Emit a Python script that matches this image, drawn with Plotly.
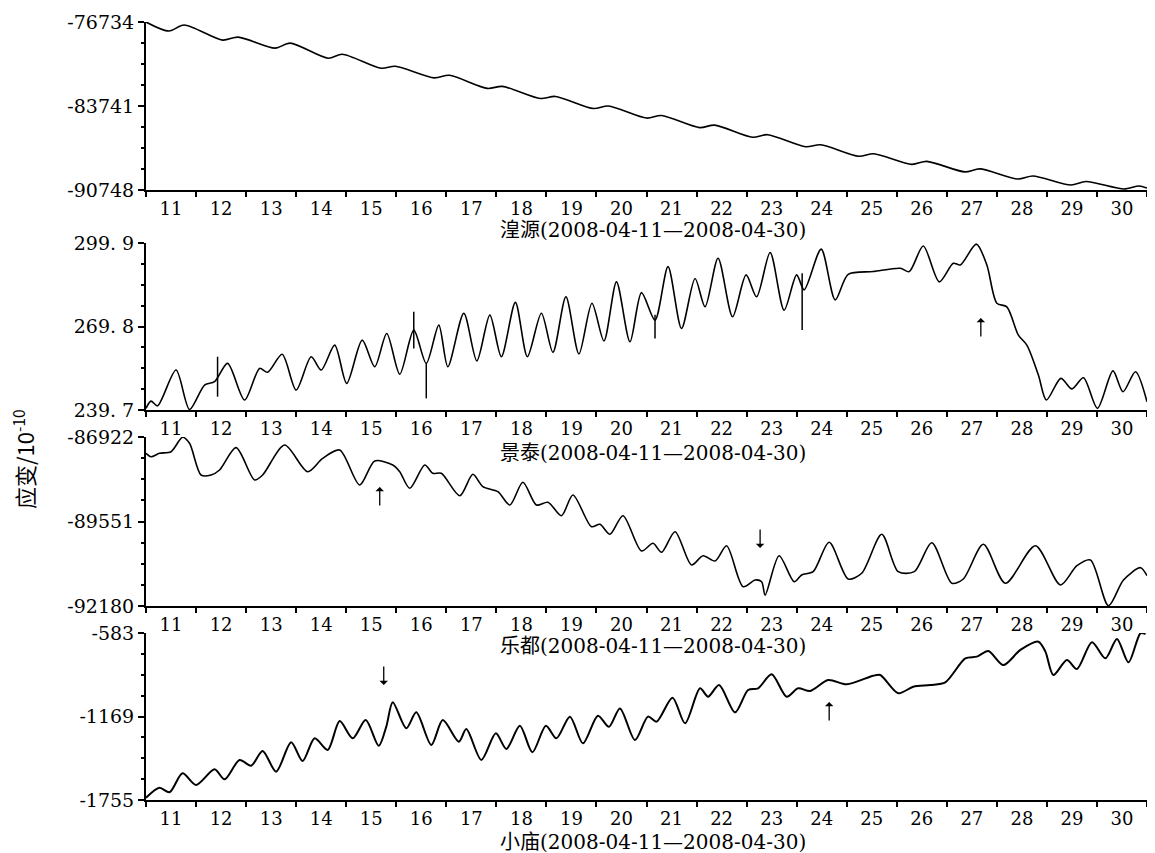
import plotly.graph_objects as go

# ---------------- data ----------------
day_labels = [str(d) for d in range(11, 31)]

# 湟源
p1_day = [11.0, 11.46, 11.76, 12.53, 12.84, 13.58, 13.88, 14.64, 14.92, 15.70,
          15.98, 16.76, 17.06, 17.82, 18.12, 18.88, 19.18, 19.94, 20.24, 21.00,
          21.30, 22.06, 22.36, 23.12, 23.42, 24.18, 24.48, 25.24, 25.54, 26.30,
          26.60, 27.36, 27.66, 28.42, 28.72, 29.48, 29.78, 30.54, 30.84, 31.0]
p1_val = [-76734, -77489, -76986, -78245, -77993, -78916, -78496, -79755, -79419, -80594,
          -80426, -81392, -81182, -82273, -82105, -83112, -82944, -83951, -83741, -84748,
          -84539, -85546, -85336, -86343, -86133, -87140, -86972, -87937, -87728, -88609,
          -88357, -89238, -88986, -89826, -89574, -90329, -90035, -90665, -90413, -90581]

# 景泰
p2_day = [11.0, 11.1, 11.23, 11.6, 11.87, 12.17, 12.37, 12.63, 12.97, 13.27,
          13.43, 13.72, 14.0, 14.3, 14.5, 14.77, 15.01, 15.32, 15.57, 15.81,
          16.07, 16.35, 16.6, 16.85, 17.03, 17.35, 17.61, 17.87, 18.1, 18.38,
          18.62, 18.9, 19.13, 19.39, 19.65, 19.91, 20.15, 20.4, 20.67, 20.9,
          21.17, 21.43, 21.7, 21.97, 22.17, 22.43, 22.72, 22.99, 23.2, 23.47,
          23.75, 24.0, 24.15, 24.49, 24.77, 25.03, 25.53, 26.07, 26.25, 26.53,
          26.85, 27.13, 27.27, 27.59, 27.8, 28.0, 28.2, 28.43, 28.6, 28.83,
          28.99, 29.28, 29.5, 29.73, 30.01, 30.32, 30.52, 30.77, 31.0]
p2_val = [240.3, 242.9, 241.2, 254.1, 239.9, 248.7, 249.9, 256.5, 243.3, 254.7,
          253.3, 259.8, 246.9, 258.9, 254.1, 263.1, 249.3, 264.9, 255.3, 267.3,
          252.6, 268.5, 256.5, 270.3, 255.3, 274.6, 257.4, 273.9, 258.9, 278.5,
          258.9, 274.6, 260.5, 280.5, 259.9, 278.2, 264.6, 285.9, 264.3, 282.0,
          272.1, 291.4, 269.1, 287.1, 276.9, 294.4, 273.3, 288.4, 280.5, 296.5,
          275.7, 288.4, 283.0, 297.7, 279.4, 288.6, 289.6, 290.8, 289.6, 298.8,
          285.9, 292.6, 292.0, 299.5, 292.0, 278.2, 276.9, 266.7, 263.1, 252.3,
          243.3, 251.1, 247.3, 251.3, 240.3, 253.8, 246.3, 253.5, 242.7]
p2_spike_day = [12.43, 16.35, 16.6, 21.17, 24.11]
p2_spike_lo = [244.5, 261.9, 243.9, 265.5, 268.5]
p2_spike_hi = [258.9, 275.1, 256.5, 274.0, 289.0]

# 乐都
p3_day = [11.0, 11.1, 11.27, 11.5, 11.73, 11.87, 12.1, 12.3, 12.47, 12.8,
          13.17, 13.33, 13.77, 14.23, 14.53, 14.87, 15.27, 15.57, 15.93, 16.07,
          16.27, 16.57, 16.73, 16.9, 17.27, 17.53, 17.73, 18.03, 18.27, 18.53,
          18.8, 19.03, 19.3, 19.53, 19.9, 20.07, 20.27, 20.53, 20.9, 21.13,
          21.3, 21.57, 21.9, 22.13, 22.37, 22.6, 22.93, 23.17, 23.3, 23.37,
          23.65, 23.95, 24.1, 24.33, 24.65, 25.03, 25.3, 25.7, 26.03, 26.35,
          26.7, 27.1, 27.33, 27.73, 28.17, 28.77, 29.27, 29.6, 29.87, 30.23,
          30.53, 30.87, 31.0]
p3_val = [-87429, -87535, -87429, -87379, -86930, -87118, -88104, -88104, -87949, -87254,
          -88260, -88104, -87171, -88002, -87585, -87326, -88415, -87669, -87793, -88002,
          -88518, -87793, -88051, -88051, -88748, -88082, -88468, -88624, -89037, -88331,
          -89037, -88953, -89370, -88726, -89713, -89638, -89949, -89370, -90469, -90229,
          -90509, -89868, -90904, -90615, -90780, -90304, -91579, -91371, -91424, -91837,
          -90615, -91424, -91215, -91112, -90198, -91340, -91162, -89949, -91112, -91112,
          -90210, -91473, -91340, -90260, -91473, -90304, -91526, -90926, -90748, -92170,
          -91371, -90988, -91237]

# 小庙
p4_day = [11.0, 11.27, 11.47, 11.73, 12.0, 12.37, 12.57, 12.87, 13.1, 13.33,
          13.6, 13.9, 14.13, 14.37, 14.63, 14.87, 15.13, 15.39, 15.65, 15.8,
          15.93, 16.2, 16.4, 16.7, 16.93, 17.25, 17.4, 17.7, 17.99, 18.2,
          18.47, 18.72, 18.99, 19.2, 19.47, 19.73, 20.03, 20.25, 20.47, 20.77,
          21.03, 21.2, 21.52, 21.77, 22.07, 22.23, 22.45, 22.77, 23.03, 23.23,
          23.5, 23.8, 24.03, 24.27, 24.63, 25.0, 25.53, 25.67, 26.03, 26.33,
          26.67, 26.97, 27.37, 27.6, 27.83, 28.13, 28.47, 28.83, 28.97, 29.13,
          29.4, 29.6, 29.9, 30.17, 30.4, 30.63, 30.87, 30.97]
p4_val = [-1739, -1669, -1701, -1568, -1650, -1540, -1610, -1474, -1514, -1411,
          -1556, -1350, -1481, -1322, -1404, -1201, -1322, -1194, -1374, -1241,
          -1069, -1252, -1140, -1369, -1194, -1346, -1257, -1474, -1287, -1397,
          -1234, -1420, -1234, -1322, -1170, -1357, -1163, -1241, -1112, -1334,
          -1170, -1205, -1037, -1217, -971, -1030, -948, -1140, -983, -971,
          -873, -1030, -971, -990, -913, -943, -883, -878, -1006, -960,
          -948, -929, -761, -749, -709, -808, -702, -644, -714, -878,
          -772, -836, -648, -761, -625, -789, -585, -590]

# axis scales (bottom, middle, top) and their labels
p1_ticks = [-90748, -83741, -76734]
p2_ticks = [239.7, 269.8, 299.9]
p3_ticks = [-92180, -89551, -86922]
p4_ticks = [-1755, -1169, -583]
p1_text = ["-90748", "-83741", "-76734"]
p2_text = ["239. 7", "269. 8", "299. 9"]
p3_text = ["-92180", "-89551", "-86922"]
p4_text = ["-1755", "-1169", "-583"]

titles = ["湟源(2008-04-11—2008-04-30)", "景泰(2008-04-11—2008-04-30)",
          "乐都(2008-04-11—2008-04-30)", "小庙(2008-04-11—2008-04-30)"]

# marked moments: (axis suffix, day, value at arrow head, direction)
arrow_axis = ["2", "3", "3", "4", "4"]
arrow_day = [27.68, 15.67, 23.27, 15.75, 24.65]
arrow_head = [272.9, -88478, -90375, -948, -1067]
arrow_dir = ["up", "up", "down", "down", "up"]

# ---------------- figure ----------------
W, H = 1155, 853
OFF = 8  # page body margin offset
SERIF = "DejaVu Serif, Liberation Serif, serif"
CJK = "DejaVu Serif, Noto Sans CJK SC, serif"


def fx(px):
    return (px - OFF) / W


def fy(px):
    return 1 - (px - OFF) / H


fig = go.Figure()

# (days, values, ticks, tick texts, top px, bottom px, title px, line width)
panels = [
    (p1_day, p1_val, p1_ticks, p1_text, 22, 190, 230, 1.6),
    (p2_day, p2_val, p2_ticks, p2_text, 243, 410, 453, 1.6),
    (p3_day, p3_val, p3_ticks, p3_text, 437, 606, 646, 1.6),
    (p4_day, p4_val, p4_ticks, p4_text, 633, 800, 842, 2.0),
]
x0_px, x1_px = 146, 1147

layout = dict(width=W, height=H, margin=dict(l=0, r=0, t=0, b=0, autoexpand=False),
              paper_bgcolor="white", plot_bgcolor="white", showlegend=False)
annotations = []

for i, (dx, vy, tv, tt, top_px, bot_px, title_px, lw) in enumerate(panels):
    n = i + 1
    xa = "x" if n == 1 else f"x{n}"
    ya = "y" if n == 1 else f"y{n}"
    fig.add_trace(go.Scatter(x=dx, y=vy, mode="lines", xaxis=xa, yaxis=ya,
                             line=dict(color="black", width=lw, shape="spline", smoothing=0.8),
                             hoverinfo="skip"))
    xkey = "xaxis" if n == 1 else f"xaxis{n}"
    ykey = "yaxis" if n == 1 else f"yaxis{n}"
    layout[xkey] = dict(
        domain=[fx(x0_px), fx(x1_px)], anchor=ya, range=[11, 31], automargin=False,
        showline=True, linecolor="black", linewidth=2, showgrid=False, zeroline=False,
        tickmode="array", tickvals=[d + 0.5 for d in range(11, 31)], ticktext=day_labels,
        ticks="outside", ticklen=1, tickcolor="rgba(0,0,0,0)",
        tickfont=dict(family=SERIF, size=18, color="black"),
        minor=dict(tickmode="linear", tick0=11, dtick=1, ticks="outside",
                   ticklen=5, tickwidth=2, tickcolor="black", showgrid=False),
    )
    lo, hi = tv[0], tv[-1]
    layout[ykey] = dict(
        domain=[fy(bot_px), fy(top_px)], anchor=xa, range=[lo, hi], automargin=False,
        showline=True, linecolor="black", linewidth=2, showgrid=False, zeroline=False,
        tickmode="array", tickvals=tv, ticktext=tt,
        ticks="outside", ticklen=6, tickwidth=2, tickcolor="black",
        tickfont=dict(family=SERIF, size=19, color="black"),
        minor=dict(tickmode="linear", tick0=lo, dtick=(hi - lo) / 8, ticks="outside",
                   ticklen=3, tickwidth=1.5, tickcolor="black", showgrid=False),
    )
    annotations.append(dict(text=titles[i], xref="paper", yref="paper",
                            x=fx(653), y=fy(title_px), showarrow=False,
                            xanchor="center", yanchor="middle",
                            font=dict(family=CJK, size=20, color="black")))

# spikes on 景泰
sx, sy = [], []
for d, a, b in zip(p2_spike_day, p2_spike_lo, p2_spike_hi):
    sx += [d, d, None]
    sy += [a, b, None]
fig.add_trace(go.Scatter(x=sx, y=sy, mode="lines", xaxis="x2", yaxis="y2",
                         line=dict(color="black", width=1.5), hoverinfo="skip"))

# arrow marks (thin arrows, 20 px long)
for axn, d, v, direction in zip(arrow_axis, arrow_day, arrow_head, arrow_dir):
    annotations.append(dict(text="", xref="x" + axn, yref="y" + axn, x=d, y=v,
                            showarrow=True, ax=0, ay=20 if direction == "up" else -20,
                            arrowhead=1, arrowsize=1.1, arrowwidth=1.3,
                            arrowcolor="black", standoff=0, startstandoff=0))

annotations.append(dict(text="应变/10<sup>-10</sup>", xref="paper", yref="paper",
                        x=fx(23), y=fy(460), showarrow=False, textangle=-90,
                        xanchor="center", yanchor="middle",
                        font=dict(family="Noto Sans CJK SC, DejaVu Serif", size=22, color="black")))

layout["annotations"] = annotations
fig.update_layout(**layout)
fig.write_html("out.html")
